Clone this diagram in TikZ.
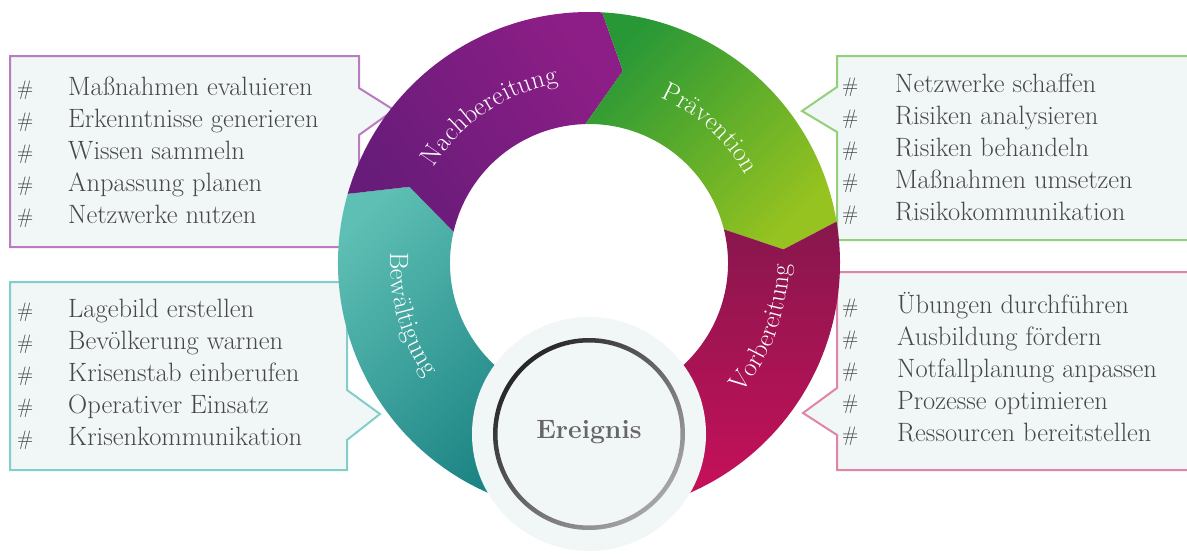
\documentclass[tikz,border=0pt]{standalone}
\usetikzlibrary{decorations.text}
\definecolor{boxfill}{HTML}{F1F6F6}
\definecolor{itemgray}{HTML}{474747}
\definecolor{lnpurple}{HTML}{B87CBF}
\definecolor{lngreen}{HTML}{92D07A}
\definecolor{lnteal}{HTML}{82CEC8}
\definecolor{lnpink}{HTML}{E084A8}
\definecolor{tealA}{HTML}{5EBFB4}
\definecolor{tealB}{HTML}{1C8484}
\definecolor{purpA}{HTML}{671C79}
\definecolor{purpB}{HTML}{8E1E87}
\definecolor{greenA}{HTML}{289836}
\definecolor{greenB}{HTML}{96C31F}
\definecolor{crimA}{HTML}{87174D}
\definecolor{crimB}{HTML}{C7105A}
\definecolor{evgray}{HTML}{666666}
\newcommand{\itemfont}{\fontsize{26.5}{32}\selectfont}
\newcommand{\segfont}{\fontsize{26.5}{30}\selectfont}
\begin{document}
\begin{tikzpicture}[x=1pt,y=1pt,
  callout/.style={fill=boxfill, line width=2pt, line join=miter},
  itemtxt/.style={anchor=base west, inner sep=0pt, text=itemgray, font=\itemfont},
  hashtxt/.style={anchor=base west, inner sep=0pt, text=itemgray, font=\fontsize{21}{24}\selectfont},
  seglabel/.style={decorate, decoration={text along path, text align=center, text color=white, text={|\segfont|#1}}}
]
\useasboundingbox (0,0) rectangle (1187,-554);

% callout boxes
\draw[callout, draw=lnpurple] (10,-56) -- (359,-56) -- (359,-88) -- (394,-110) -- (359,-135) -- (359,-247) -- (10,-247) -- cycle;
\draw[callout, draw=lngreen] (1192,-56) -- (837,-56) -- (837,-87) -- (802,-111) -- (837,-132) -- (837,-240) -- (1192,-240);
\draw[callout, draw=lnteal] (10,-282) -- (347,-282) -- (347,-390) -- (380,-414) -- (347,-440) -- (347,-470) -- (10,-470) -- cycle;
\draw[callout, draw=lnpink] (1192,-272) -- (837,-272) -- (837,-388) -- (803,-413) -- (837,-435) -- (837,-470) -- (1192,-470);

% list texts
\foreach [count=\i] \t in {Maßnahmen evaluieren, Erkenntnisse generieren, Wissen sammeln, Anpassung planen, Netzwerke nutzen} {
  \node[hashtxt] (ha\i) at (17,{-95-32*(\i-1)}) {\#};
  \node[itemtxt] (ia\i) at (68,{-95-32*(\i-1)}) {\t};
}
\foreach [count=\i] \t in {Netzwerke schaffen, Risiken analysieren, Risiken behandeln, Maßnahmen umsetzen, Risikokommunikation} {
  \node[hashtxt] (hb\i) at (842,{-92-32*(\i-1)}) {\#};
  \node[itemtxt] (ib\i) at (895,{-92-32*(\i-1)}) {\t};
}
\foreach [count=\i] \t in {Lagebild erstellen, Bevölkerung warnen, Krisenstab einberufen, Operativer Einsatz, Krisenkommunikation} {
  \node[hashtxt] (hc\i) at (17,{-317-32*(\i-1)}) {\#};
  \node[itemtxt] (ic\i) at (68,{-317-32*(\i-1)}) {\t};
}
\foreach [count=\i] \t in {Übungen durchführen, Ausbildung fördern, Notfallplanung anpassen, Prozesse optimieren, Ressourcen bereitstellen} {
  \node[hashtxt] (hd\i) at (842,{-313-32*(\i-1)}) {\#};
  \node[itemtxt] (id\i) at (897,{-313-32*(\i-1)}) {\t};
}

% ring segments
\begin{scope}[shift={(589,-263)}]
  \def\R{251}\def\r{139}\def\m{195}
  \path[left color=tealA, right color=tealB, shading angle=45]
    (250:\R) arc[start angle=250, end angle=164, radius=\R] -- (157:\m) -- (167:\r)
    arc[start angle=167, end angle=250, radius=\r] -- (243:\m) -- cycle;
  \path[left color=purpA, right color=purpB, shading angle=125]
    (164:\R) arc[start angle=164, end angle=87, radius=\R] -- (80:\m) -- (91.5:\r)
    arc[start angle=91.5, end angle=167, radius=\r] -- (157:\m) -- cycle;
  \path[left color=greenA, right color=greenB, shading angle=45]
    (87:\R) arc[start angle=87, end angle=9.5, radius=\R] -- (4:\m) -- (14:\r)
    arc[start angle=14, end angle=91.5, radius=\r] -- (80:\m) -- cycle;
  \path[top color=crimA, bottom color=crimB]
    (9.5:\R) arc[start angle=9.5, end angle=-70, radius=\R] -- (-77:\m) -- (-70:\r)
    arc[start angle=-70, end angle=14, radius=\r] -- (4:\m) -- cycle;

  % segment labels
  \path[seglabel=Nachbereitung] (166:182) arc[start angle=166, end angle=82, radius=182];
  \path[seglabel=Prävention] (90:180) arc[start angle=90, end angle=6, radius=180];
  \path[seglabel=Bewältigung] (154:199) arc[start angle=154, end angle=238, radius=199];
  \path[seglabel=Vorbereitung] (-63:200) arc[start angle=-63, end angle=22, radius=200];
\end{scope}

% event disk
\node[circle, fill=boxfill, minimum size=234pt, inner sep=0pt] (disk) at (589,-434) {};
\shade[even odd rule, left color=black!85, right color=black!35, shading angle=45]
  (589,-434) circle[radius=96] circle[radius=91.5];
\node[font=\fontsize{26.5}{30}\selectfont\bfseries, text=evgray] (ev) at (589,-432) {Ereignis};
\end{tikzpicture}
\end{document}
